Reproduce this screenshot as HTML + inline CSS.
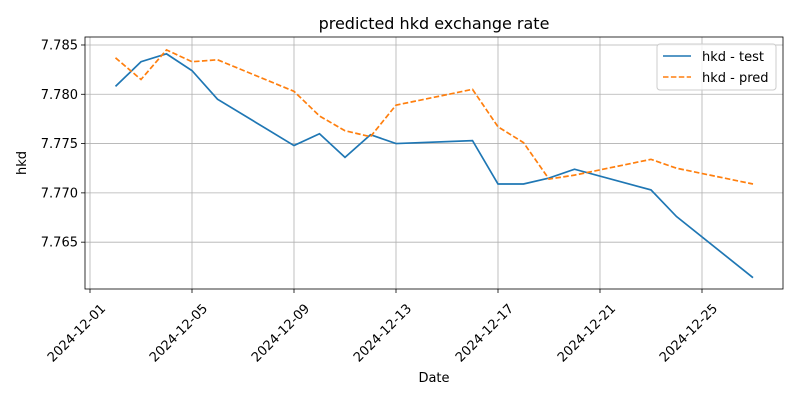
<!DOCTYPE html>
<html><head><meta charset="utf-8"><style>
body{margin:0;background:#fff;font-family:"Liberation Sans","DejaVu Sans",sans-serif;}
svg text{font-family:"DejaVu Sans","Liberation Sans",sans-serif;}
</style></head><body>
<svg id="chart" width="800" height="400" xmlns="http://www.w3.org/2000/svg"></svg>
<script>
const dates = ["2024-12-02","2024-12-03","2024-12-04","2024-12-05","2024-12-06","2024-12-09","2024-12-10","2024-12-11","2024-12-12","2024-12-13","2024-12-16","2024-12-17","2024-12-18","2024-12-19","2024-12-20","2024-12-23","2024-12-24","2024-12-27"];
const testValues = [7.7808,7.7833,7.7841,7.7824,7.7795,7.7748,7.7760,7.7736,7.7759,7.7750,7.7753,7.7709,7.7709,7.7715,7.7724,7.7703,7.7676,7.7614];
const predValues = [7.7837,7.7815,7.7845,7.7833,7.7835,7.7803,7.7778,7.7763,7.7757,7.7789,7.7805,7.7767,7.7751,7.7714,7.7718,7.7734,7.7725,7.7709];
const xTickLabels = ["2024-12-01","2024-12-05","2024-12-09","2024-12-13","2024-12-17","2024-12-21","2024-12-25"];
const yTickValues = [7.765,7.770,7.775,7.780,7.785];

const NS="http://www.w3.org/2000/svg";
const svg=document.getElementById('chart');
const L=85,R=783,T=37,B=289;
const day0=Date.parse("2024-12-01");
function xs(d){return 90+(Date.parse(d)-day0)/86400000*25.5;}
const yMin=7.76025,yMax=7.78581;
function ys(v){return B-(v-yMin)/(yMax-yMin)*(B-T);}
function mk(tag,attrs,parent){const e=document.createElementNS(NS,tag);for(const k in attrs)e.setAttribute(k,attrs[k]);(parent||svg).appendChild(e);return e;}

const title=mk('text',{x:434,y:29,'text-anchor':'middle','font-size':16,fill:'#000'});
title.textContent='predicted hkd exchange rate';



const grid=mk('g',{});


xTickLabels.forEach(lbl=>{
  const x=xs(lbl);
  mk('line',{x1:x,x2:x,y1:T,y2:B,stroke:'#b0b0b0','stroke-width':0.8},grid);
  mk('line',{x1:x,x2:x,y1:B,y2:B+4,stroke:'#000','stroke-width':0.8});
  const t=mk('text',{transform:`translate(${x+10},${B+14}) rotate(-45)`,'text-anchor':'end','dominant-baseline':'hanging','font-size':13,fill:'#000'});
  t.textContent=lbl;
  
  
});
yTickValues.forEach(v=>{
  const y=ys(v);
  mk('line',{x1:L,x2:R,y1:y,y2:y,stroke:'#b0b0b0','stroke-width':0.8},grid);
  mk('line',{x1:L-4,x2:L,y1:y,y2:y,stroke:'#000','stroke-width':0.8});
  const t=mk('text',{x:L-7,y:y+4.5,'text-anchor':'end','font-size':13,fill:'#000'});
  t.textContent=v.toFixed(3);
  
  
});
const frame=mk('rect',{x:L,y:T,width:R-L,height:B-T,fill:'none',stroke:'#000','stroke-width':0.8});



function line(vals,color,dash,name){
  const p=mk('polyline',{points:vals.map((v,i)=>xs(dates[i])+','+ys(v)).join(' '),fill:'none',stroke:color,'stroke-width':1.7,'stroke-dasharray':dash});
  
  
}
line(testValues,'#1f77b4','none','test-line');
line(predValues,'#ff7f0e','5.5,2.4','pred-line');

const xl=mk('text',{x:434,y:382,'text-anchor':'middle','font-size':13});
xl.textContent='Date';


const yl=mk('text',{transform:'translate(26,163) rotate(-90)','text-anchor':'middle','font-size':13});
yl.textContent='hkd';



const lg=mk('g',{});


mk('rect',{x:657,y:44,width:119,height:46,rx:3,fill:'#fff','fill-opacity':0.8,stroke:'#ccc'},lg);
mk('line',{x1:663,x2:691,y1:56,y2:56,stroke:'#1f77b4','stroke-width':1.5},lg);
mk('line',{x1:663,x2:691,y1:77,y2:77,stroke:'#ff7f0e','stroke-width':1.5,'stroke-dasharray':'5.5,2.4'},lg);
const l1=mk('text',{x:702,y:61,'font-size':13},lg);l1.textContent='hkd - test';


const l2=mk('text',{x:702,y:82,'font-size':13},lg);l2.textContent='hkd - pred';


</script>
</body></html>
